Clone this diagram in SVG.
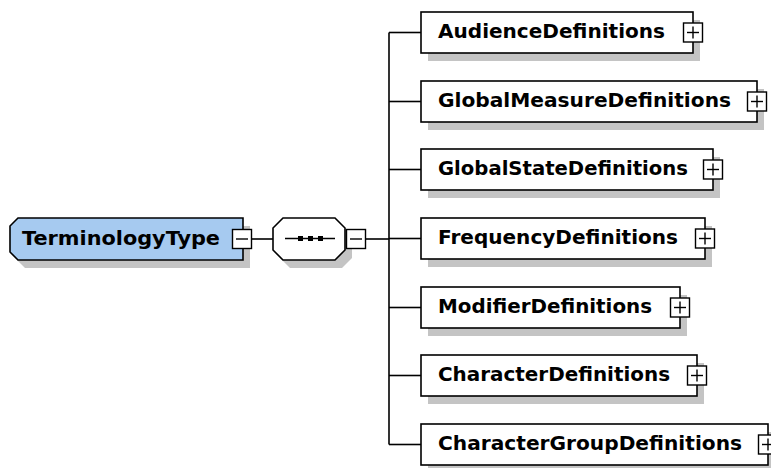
<svg xmlns="http://www.w3.org/2000/svg" width="771" height="468" viewBox="0 0 771 468">
<style>
.sh{fill:#c4c4c4;stroke:none}
.box{fill:#ffffff;stroke:#000;stroke-width:1.6}
.root{fill:#a6caf0;stroke:#000;stroke-width:1.6}
.lbl{font-family:"DejaVu Sans",Verdana,sans-serif;font-weight:bold;font-size:20px;fill:#000}
.cn{stroke:#000;stroke-width:1.6;fill:none}
.pmb{fill:#fff;stroke:#000;stroke-width:1.4}
.pml{stroke:#000;stroke-width:1.4}
</style>
<defs>
<g id="plus"><rect class="pmb" x="-9.5" y="-9.5" width="19" height="19"/><line class="pml" x1="-6" y1="0" x2="6" y2="0"/><line class="pml" x1="0" y1="-6" x2="0" y2="6"/></g>
<g id="minus"><rect class="pmb" x="-9.5" y="-9.5" width="19" height="19"/><line class="pml" x1="-6" y1="0" x2="6" y2="0"/></g>
</defs>
<rect width="771" height="468" fill="#fff"/>
<g id="connectors">
<line class="cn" x1="251" y1="239" x2="273" y2="239"/>
<line class="cn" x1="366" y1="239" x2="389" y2="239"/>
<line class="cn" x1="389" y1="32.5" x2="389" y2="444.5"/>
<line class="cn" x1="389" y1="32.5" x2="421" y2="32.5"/>
<line class="cn" x1="389" y1="101.5" x2="421" y2="101.5"/>
<line class="cn" x1="389" y1="169.5" x2="421" y2="169.5"/>
<line class="cn" x1="389" y1="238.5" x2="421" y2="238.5"/>
<line class="cn" x1="389" y1="307.5" x2="421" y2="307.5"/>
<line class="cn" x1="389" y1="375.5" x2="421" y2="375.5"/>
<line class="cn" x1="389" y1="444.5" x2="421" y2="444.5"/>
</g>
<g id="TerminologyType">
<path class="sh" d="M25,226 H250 V268 H25 L17,260 V234 Z"/>
<path class="root" d="M18,218 H243 V260 H18 L10,252 V226 Z"/>
<text class="lbl" x="22" y="245" textLength="198" lengthAdjust="spacingAndGlyphs">TerminologyType</text>
<use href="#minus" x="242" y="239"/>
</g>
<g id="sequence">
<path class="sh" d="M290,226 H342 L352,236 V258 L342,268 H290 L280,258 V236 Z"/>
<path class="box" d="M283,218 H335 L345,228 V250 L335,260 H283 L273,250 V228 Z"/>
<line class="cn" x1="285" y1="238.5" x2="335" y2="238.5"/>
<rect x="298" y="236" width="5" height="5" fill="#000"/>
<rect x="308" y="236" width="5" height="5" fill="#000"/>
<rect x="318" y="236" width="5" height="5" fill="#000"/>
<use href="#minus" x="356" y="239"/>
</g>
<g id="AudienceDefinitions">
<rect class="sh" x="428" y="20" width="272" height="41"/>
<rect class="box" x="421" y="12" width="272" height="41"/>
<text class="lbl" x="438" y="38" textLength="227" lengthAdjust="spacingAndGlyphs">AudienceDefinitions</text>
<use href="#plus" x="693" y="32.5"/>
</g>
<g id="GlobalMeasureDefinitions">
<rect class="sh" x="428" y="89" width="336" height="41"/>
<rect class="box" x="421" y="81" width="336" height="41"/>
<text class="lbl" x="438" y="107" textLength="293" lengthAdjust="spacingAndGlyphs">GlobalMeasureDefinitions</text>
<use href="#plus" x="757" y="101.5"/>
</g>
<g id="GlobalStateDefinitions">
<rect class="sh" x="428" y="157" width="292" height="41"/>
<rect class="box" x="421" y="149" width="292" height="41"/>
<text class="lbl" x="438" y="175" textLength="250" lengthAdjust="spacingAndGlyphs">GlobalStateDefinitions</text>
<use href="#plus" x="713" y="169.5"/>
</g>
<g id="FrequencyDefinitions">
<rect class="sh" x="428" y="226" width="284" height="41"/>
<rect class="box" x="421" y="218" width="284" height="41"/>
<text class="lbl" x="438" y="244" textLength="240" lengthAdjust="spacingAndGlyphs">FrequencyDefinitions</text>
<use href="#plus" x="705" y="238.5"/>
</g>
<g id="ModifierDefinitions">
<rect class="sh" x="428" y="295" width="259" height="41"/>
<rect class="box" x="421" y="287" width="259" height="41"/>
<text class="lbl" x="438" y="313" textLength="214" lengthAdjust="spacingAndGlyphs">ModifierDefinitions</text>
<use href="#plus" x="680" y="307.5"/>
</g>
<g id="CharacterDefinitions">
<rect class="sh" x="428" y="363" width="276" height="41"/>
<rect class="box" x="421" y="355" width="276" height="41"/>
<text class="lbl" x="438" y="381" textLength="232" lengthAdjust="spacingAndGlyphs">CharacterDefinitions</text>
<use href="#plus" x="697" y="375.5"/>
</g>
<g id="CharacterGroupDefinitions">
<rect class="sh" x="428" y="432" width="347" height="41"/>
<rect class="box" x="421" y="424" width="347" height="41"/>
<text class="lbl" x="438" y="450" textLength="304" lengthAdjust="spacingAndGlyphs">CharacterGroupDefinitions</text>
<use href="#plus" x="768" y="444.5"/>
</g>
</svg>
